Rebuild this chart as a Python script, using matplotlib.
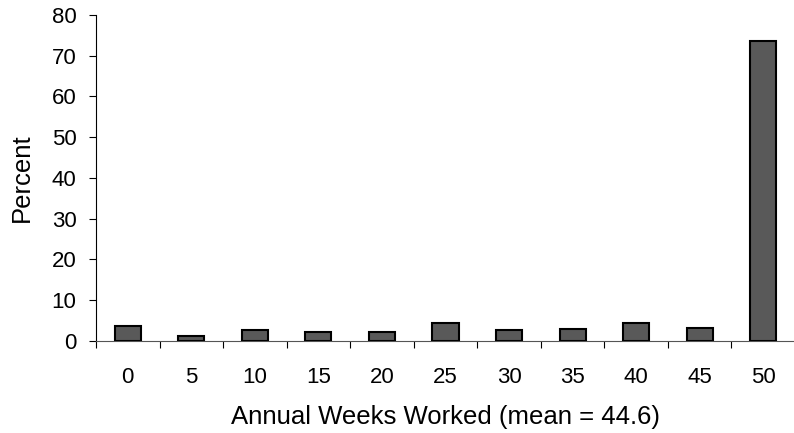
import matplotlib
matplotlib.use('Agg')
import matplotlib.pyplot as plt
import numpy as np

weeks = ['0', '5', '10', '15', '20', '25', '30', '35', '40', '45', '50']
percent = [3.7, 1.2, 2.6, 2.3, 2.1, 4.4, 2.6, 3.0, 4.4, 3.3, 73.6]
y_ticks = [0, 10, 20, 30, 40, 50, 60, 70, 80]

plt.rcParams['font.family'] = ['Liberation Sans', 'DejaVu Sans']

fig = plt.figure(figsize=(7.94, 4.33), dpi=100)
ax = fig.add_axes([0.1209, 0.2125, 0.8804, 0.7529])

x = np.arange(len(weeks))
ax.bar(x, percent, width=0.41, color='#595959', edgecolor='black', linewidth=1.5, zorder=3)

ax.set_xlim(-0.5, len(weeks) - 0.5)
ax.set_ylim(0, 80)
ax.set_yticks(y_ticks)
ax.tick_params(axis='y', direction='out', length=5, width=0.8, pad=9, labelsize=16)

# labels centred on the bars, tick marks between categories
ax.set_xticks(x)
ax.set_xticklabels(weeks)
ax.tick_params(axis='x', which='major', length=0, pad=19, labelsize=16)
ax.set_xticks(np.arange(len(weeks) + 1) - 0.5, minor=True)
ax.tick_params(axis='x', which='minor', direction='out', length=5, width=0.8)

for s in ['top', 'right']:
    ax.spines[s].set_visible(False)
ax.spines['left'].set_linewidth(0.8)
ax.spines['bottom'].set_linewidth(0.8)
ax.spines['bottom'].set_color('#555555')

ax.set_ylabel('Percent', fontsize=18.5, labelpad=13)
ax.set_xlabel('Annual Weeks Worked (mean = 44.6)', fontsize=18.5, labelpad=12)

fig.savefig('out.png', dpi=100)
